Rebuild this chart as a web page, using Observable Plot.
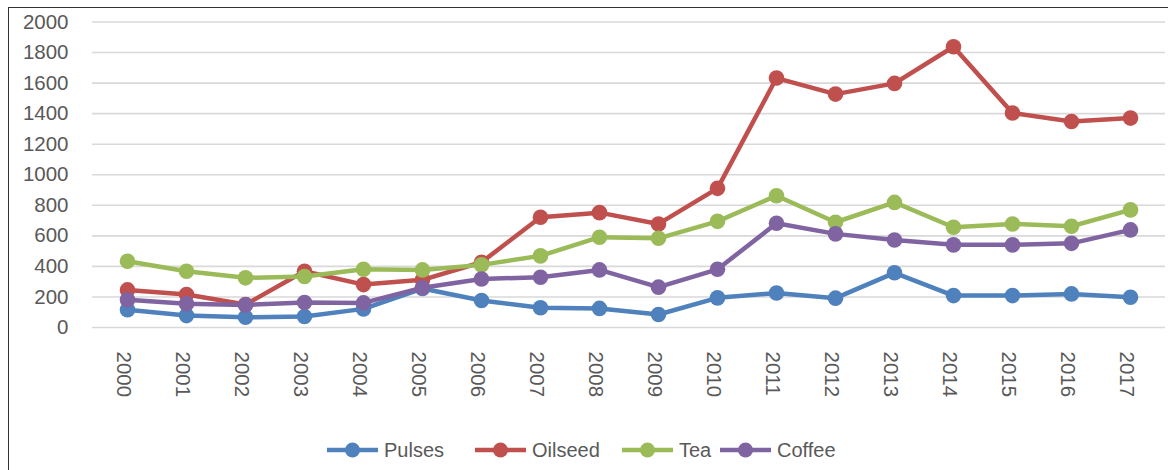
<!DOCTYPE html>
<html>
<head>
<meta charset="utf-8">
<script src="https://cdn.jsdelivr.net/npm/d3@7"></script>
<script src="https://cdn.jsdelivr.net/npm/@observablehq/plot@0.6"></script>
<style>
  html, body { margin: 0; padding: 0; background: #fff; overflow: hidden; }
  #frame { position: absolute; left: 8px; top: 7px; width: 1200px; height: 500px;
           border-left: 1.5px solid #333; border-top: 1.5px solid #333; }
  #chart { position: absolute; left: 0; top: 0; }
  #legend { position: absolute; left: 0; top: 437px; width: 1168px; height: 26px;
            font-family: "Liberation Sans", Arial, sans-serif; font-size: 20px; color: #595959; }
  .item { position: absolute; top: 0; display: flex; align-items: center; height: 26px; }
  .item svg { margin-right: 6px; }
</style>
</head>
<body>
<div id="frame"></div>
<div id="chart"></div>
<div id="legend"></div>
<script>
const years = ["2000","2001","2002","2003","2004","2005","2006","2007","2008","2009","2010","2011","2012","2013","2014","2015","2016","2017"];
const seriesNames = ["Pulses", "Oilseed", "Tea", "Coffee"];
const pulses  = [116, 78, 67, 72, 122, 255, 177, 129, 125, 85, 194, 226, 192, 358, 209, 209, 220, 198];
const oilseed = [246, 216, 150, 368, 281, 312, 427, 722, 752, 678, 911, 1633, 1528, 1598, 1838, 1404, 1349, 1371];
const tea     = [434, 368, 325, 334, 381, 377, 410, 469, 591, 584, 695, 863, 689, 819, 656, 678, 663, 770];
const coffee  = [181, 155, 148, 163, 161, 260, 318, 329, 377, 264, 381, 682, 613, 573, 541, 541, 551, 639];
const colors  = ["#4F81BD", "#C0504D", "#9BBB59", "#8064A2"];
const yTicks  = [0, 200, 400, 600, 800, 1000, 1200, 1400, 1600, 1800, 2000];

const valuesBySeries = [pulses, oilseed, tea, coffee];
const data = [];
seriesNames.forEach((s, i) => years.forEach((yr, j) => data.push({series: s, year: yr, value: valuesBySeries[i][j]})));

const marks = [
  Plot.gridY(yTicks, {stroke: "#d9d9d9", strokeOpacity: 1, strokeWidth: 1.6}),
  Plot.axisY(yTicks, {tickSize: 0, tickPadding: 24, fontSize: 20.5, fill: "#595959", label: null, tickFormat: d => String(d)}),
  Plot.axisX({tickSize: 0, tickPadding: 24, tickRotate: 90, fontSize: 20.5, fill: "#595959", label: null, dx: -4})
];
seriesNames.forEach((s, i) => {
  const d = data.filter(r => r.series === s);
  marks.push(Plot.line(d, {x: "year", y: "value", stroke: colors[i], strokeWidth: 4.5, strokeLinejoin: "round"}));
  marks.push(Plot.dot(d, {x: "year", y: "value", fill: colors[i], r: 7.8, stroke: "none"}));
});

const chart = Plot.plot({
  width: 1168,
  height: 410,
  marginLeft: 92,
  marginRight: 3,
  marginTop: 21.5,
  marginBottom: 83,
  style: {fontFamily: "Liberation Sans, Arial, sans-serif", background: "transparent", overflow: "visible"},
  x: {type: "point", domain: years, padding: 0.5, label: null},
  y: {domain: [0, 2000], label: null},
  marks
});
document.getElementById("chart").appendChild(chart);

const legendPos = [327, 475, 622, 720];
const legend = document.getElementById("legend");
seriesNames.forEach((s, i) => {
  const it = document.createElement("div");
  it.className = "item";
  it.style.left = legendPos[i] + "px";
  it.innerHTML = `<svg width="51" height="20"><line x1="0" y1="10" x2="51" y2="10" stroke="${colors[i]}" stroke-width="4.5"/><circle cx="25.5" cy="10" r="7.5" fill="${colors[i]}"/></svg><span>${s}</span>`;
  legend.appendChild(it);
});
</script>
</body>
</html>
